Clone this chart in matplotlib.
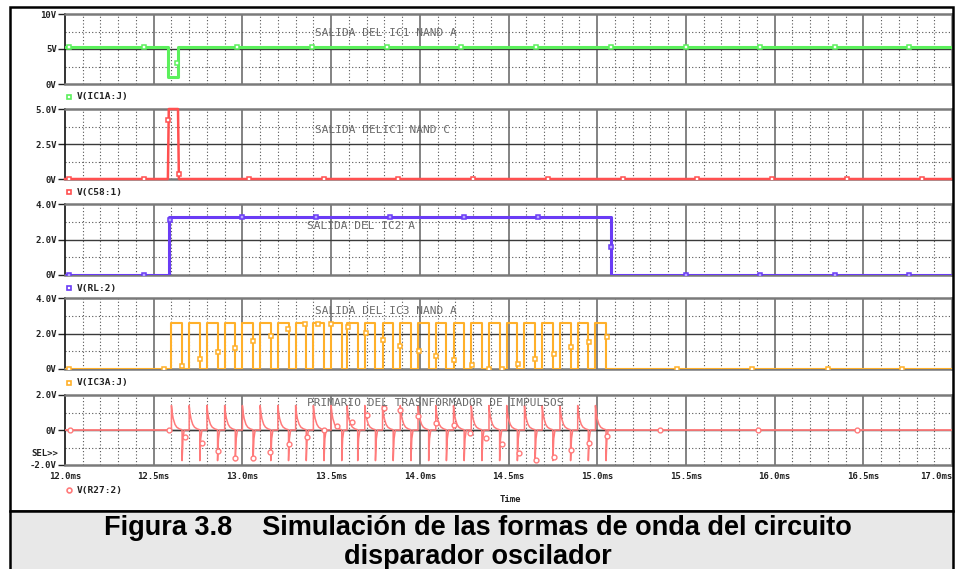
"""
Recreate a PSpice-style transient plot: five stacked waveform panels
with a grey caption box underneath.
"""

import matplotlib
matplotlib.use("Agg")
import matplotlib.pyplot as plt
import numpy as np
from matplotlib.patches import Rectangle

# === Data (times in ms, values in V) ===
X_TICKS = [12.0, 12.5, 13.0, 13.5, 14.0, 14.5, 15.0, 15.5, 16.0, 16.5, 17.0]
X_LABELS = ["12.0ms", "12.5ms", "13.0ms", "13.5ms", "14.0ms", "14.5ms",
            "15.0ms", "15.5ms", "16.0ms", "16.5ms", "17.0ms"]

# V(IC1A:J) - green
GREEN_T = [12.0, 12.58, 12.58, 12.636, 12.636, 17.0]
GREEN_V = [5.35, 5.35, 1.0, 1.0, 5.35, 5.35]
GREEN_MT = [12.023, 12.445, 12.631, 12.969, 13.392, 13.814, 14.231, 14.653,
            15.076, 15.498, 15.915, 16.338, 16.755]
GREEN_MV = [5.35, 5.35, 3.0, 5.35, 5.35, 5.35, 5.35, 5.35,
            5.35, 5.35, 5.35, 5.35, 5.35]

# V(C58:1) - red
RED_T = [12.0, 12.58, 12.585, 12.637, 12.642, 17.0]
RED_V = [0.0, 0.0, 5.0, 5.0, 0.0, 0.0]
RED_MT = [12.023, 12.445, 12.580, 12.642, 13.037, 13.459, 13.876, 14.299,
          14.721, 15.144, 15.561, 15.983, 16.406, 16.831]
RED_MV = [0, 0, 4.2, 0.35, 0, 0, 0, 0, 0, 0, 0, 0, 0, 0]

# V(RL:2) - blue
BLUE_T = [12.0, 12.587, 12.587, 15.08, 15.08, 17.0]
BLUE_V = [0.0, 0.0, 3.28, 3.28, 0.0, 0.0]
BLUE_MT = [12.023, 12.445, 12.59, 12.997, 13.414, 13.831, 14.248, 14.665,
           15.08, 15.50, 15.92, 16.34, 16.76]
BLUE_MV = [0, 0, 3.1, 3.28, 3.28, 3.28, 3.28, 3.28, 1.6, 0, 0, 0, 0]

# V(IC3A:J) - orange square wave
PULSE_RISE = [12.60, 12.70, 12.80, 12.90, 13.00, 13.10, 13.20, 13.30, 13.40,
              13.50, 13.59, 13.69, 13.79, 13.89, 13.99, 14.09, 14.19, 14.29,
              14.39, 14.49, 14.59, 14.69, 14.79, 14.89, 14.99]
PULSE_FALL = [12.66, 12.76, 12.86, 12.96, 13.06, 13.16, 13.26, 13.36, 13.46,
              13.56, 13.65, 13.75, 13.85, 13.95, 14.05, 14.15, 14.25, 14.35,
              14.45, 14.55, 14.65, 14.75, 14.85, 14.95, 15.05]
PULSE_HIGH = 2.61
ORANGE_MT = [12.023, 12.559, 12.657, 12.761, 12.862, 12.958, 13.059, 13.159,
             13.258, 13.352, 13.424, 13.499, 13.598, 13.694, 13.793, 13.891,
             13.993, 14.094, 14.193, 14.295, 14.390, 14.462, 14.554, 14.652,
             14.755, 14.855, 14.954, 15.055, 15.45, 15.87, 16.30, 16.72]
ORANGE_MV = [0, 0, 0.17, 0.56, 0.96, 1.20, 1.58, 1.86,
             2.25, 2.54, 2.54, 2.54, 2.35, 2.01, 1.63, 1.31,
             1.03, 0.75, 0.51, 0.23, 0, 0, 0.28, 0.56,
             0.83, 1.26, 1.50, 1.82, 0, 0, 0, 0]

# V(R27:2) - spike profiles after each rising / falling edge
SPIKE_UP_DT = [0.0, 0.0, 0.005, 0.010, 0.020, 0.030, 0.045, 0.058]
SPIKE_UP_V = [0.0, 1.40, 0.95, 0.65, 0.32, 0.16, 0.06, 0.02]
SPIKE_DN_DT = [0.0, 0.0, 0.005, 0.012]
SPIKE_DN_V = [0.0, -1.75, -0.50, 0.0]
R27_MT = [12.028, 12.588, 12.678, 12.772, 12.864, 12.959, 13.061, 13.155,
          13.260, 13.362, 13.459, 13.531, 13.615, 13.700, 13.797, 13.891,
          13.990, 14.094, 14.192, 14.282, 14.372, 14.466, 14.559, 14.657,
          14.755, 14.855, 14.954, 15.055, 15.352, 15.906, 16.464]
R27_MV = [0, 0, -0.38, -0.76, -1.18, -1.60, -1.60, -1.24,
          -0.80, -0.38, 0, 0.23, 0.47, 0.86, 1.24, 1.14,
          0.80, 0.42, 0.26, -0.15, -0.47, -0.80, -1.30, -1.71,
          -1.56, -1.14, -0.73, -0.34, 0, 0, 0]

# === Layout (pixels in a 955x569 canvas) ===
W, H = 955, 569
X0, X1 = 65, 952
PANELS = [  # (top, bottom, ymin, ymax, tick labels, title, title x, title y, name, legend y)
    (14, 84, 0, 10, ["0V", "5V", "10V"], "SALIDA DEL IC1 NAND A", 386, 33, "V(IC1A:J)", 97),
    (109, 179, 0, 5, ["0V", "2.5V", "5.0V"], "SALIDA DELIC1 NAND C", 382, 130, "V(C58:1)", 192),
    (204, 275, 0, 4, ["0V", "2.0V", "4.0V"], "SALIDA DEL IC2 A", 361, 226, "V(RL:2)", 288),
    (298, 369, 0, 4, ["0V", "2.0V", "4.0V"], "SALIDA DEL IC3 NAND A", 386, 311, "V(IC3A:J)", 383),
    (395, 465, -2, 2, ["-2.0V", "0V", "2.0V"],
     "PRIMARIO DEL TRASNFORMADOR DE IMPULSOS", 435, 403, "V(R27:2)", 490),
]
COLORS = ["#5cf05c", "#ff5050", "#6a3cf5", "#ffb02a", "#ff7a7a"]
MARKERS = ["s", "s", "s", "s", "o"]
MONO = "DejaVu Sans Mono"


def fx(px):
    return px / W


def fy(py):
    return 1 - py / H


def style_axes(ax, ymin, ymax, labels):
    ax.set_xlim(12.0, 17.0)
    ax.set_ylim(ymin, ymax)
    mid = (ymin + ymax) / 2
    q = (ymax - ymin) / 4
    # minor dotted verticals every 0.1ms, solid majors every 0.5ms
    for t in np.arange(12.1, 17.0, 0.1):
        if abs(t * 2 - round(t * 2)) > 1e-6:
            ax.axvline(t, color="#555555", lw=0.8, ls=(0, (1, 2)), zorder=1)
    for t in X_TICKS[1:-1]:
        ax.axvline(t, color="#6e6e6e", lw=1.2, zorder=1)
    ax.axhline(ymin + q, color="#555555", lw=0.8, ls=(0, (1, 2)), zorder=1)
    ax.axhline(ymax - q, color="#555555", lw=0.8, ls=(0, (1, 2)), zorder=1)
    ax.axhline(mid, color="#3a3a3a", lw=1.0, zorder=1)
    ax.set_yticks([ymin, mid, ymax])
    ax.set_yticklabels(labels)
    ax.tick_params(axis="y", length=5, width=1, pad=1, labelsize=6.5,
                   colors="#222222")
    for lab in ax.get_yticklabels():
        lab.set_fontfamily(MONO)
        lab.set_fontweight("bold")
    ax.set_xticks(X_TICKS)
    ax.tick_params(axis="x", length=0)
    ax.set_xticklabels([])
    ax.spines["left"].set_color("#111111")
    ax.spines["left"].set_linewidth(1.2)
    for side in ["top", "right", "bottom"]:
        ax.spines[side].set_color("#7a7a7a")
        ax.spines[side].set_linewidth(1.8)


def main():
    fig = plt.figure(figsize=(W / 100, H / 100), dpi=100)
    fig.patch.set_facecolor("white")

    # outer frame and caption box
    fig.add_artist(Rectangle((fx(10), fy(511)), fx(943), 504 / H,
                             fill=False, ec="black", lw=1.8,
                             transform=fig.transFigure))
    fig.add_artist(Rectangle((fx(10), -0.01), fx(943), fy(511) + 0.01,
                             fc="#e8e8e8", ec="black", lw=1.8,
                             transform=fig.transFigure))
    fig.text(0.5, fy(528), "Figura 3.8    Simulación de las formas de onda del circuito",
             ha="center", va="center", fontsize=19.5, fontweight="bold",
             family="Liberation Sans", color="black")
    fig.text(0.5, fy(557), "disparador oscilador",
             ha="center", va="center", fontsize=19.5, fontweight="bold",
             family="Liberation Sans", color="black")

    axes = []
    for i, (top, bot, ymin, ymax, labels, title, tx, ty, name, legy) in enumerate(PANELS):
        ax = fig.add_axes([fx(X0), fy(bot), fx(X1 - X0), (bot - top) / H])
        style_axes(ax, ymin, ymax, labels)
        fig.text(fx(tx), fy(ty), title, ha="center", va="center",
                 fontsize=8, family=MONO, color="#6a6a6a", zorder=5)
        # legend entry below panel
        ly = fy(legy)
        fig.lines.append(plt.Line2D([fx(69)], [ly], marker=MARKERS[i],
                                    ms=3.5, mfc="white", mec=COLORS[i],
                                    mew=1.2, transform=fig.transFigure))
        fig.text(fx(77), ly, name, ha="left", va="center", fontsize=6.8,
                 family=MONO, fontweight="bold", color="#222222")
        axes.append(ax)

    # Panel 1
    ax = axes[0]
    ax.plot(GREEN_T, GREEN_V, color=COLORS[0], lw=2.2, zorder=3)
    ax.plot(GREEN_MT, GREEN_MV, ls="none", marker="s", ms=3.5, mfc="white",
            mec=COLORS[0], mew=1.1, zorder=4)

    # Panel 2
    ax = axes[1]
    ax.plot(RED_T, RED_V, color=COLORS[1], lw=1.8, zorder=3, clip_on=False)
    ax.plot(RED_MT, RED_MV, ls="none", marker="s", ms=3.5, mfc="white",
            mec=COLORS[1], mew=1.1, zorder=4)

    # Panel 3
    ax = axes[2]
    ax.plot(BLUE_T, BLUE_V, color=COLORS[2], lw=2.2, zorder=3)
    ax.plot(BLUE_MT, BLUE_MV, ls="none", marker="s", ms=3.5, mfc="#b9a8ff",
            mec=COLORS[2], mew=1.1, zorder=4)

    # Panel 4: square wave built from edge lists
    ot, ov = [12.0], [0.0]
    for r, f in zip(PULSE_RISE, PULSE_FALL):
        ot += [r, r, f, f]
        ov += [0.0, PULSE_HIGH, PULSE_HIGH, 0.0]
    ot.append(17.0)
    ov.append(0.0)
    ax = axes[3]
    ax.plot(ot, ov, color=COLORS[3], lw=1.5, zorder=3)
    ax.plot(ORANGE_MT, ORANGE_MV, ls="none", marker="s", ms=3.5,
            mfc="white", mec=COLORS[3], mew=1.1, zorder=4)

    # Panel 5: spikes on every edge
    ax = axes[4]
    ax.plot([12.0, PULSE_RISE[0]], [0, 0], color=COLORS[4], lw=1.3, zorder=3)
    ax.plot([PULSE_FALL[-1] + SPIKE_DN_DT[-1], 17.0], [0, 0],
            color=COLORS[4], lw=1.3, zorder=3)
    st, sv = [], []
    for r, f in zip(PULSE_RISE, PULSE_FALL):
        st += [r + d for d in SPIKE_UP_DT]
        sv += SPIKE_UP_V
        st += [f + d for d in SPIKE_DN_DT]
        sv += SPIKE_DN_V
    ax.plot(st, sv, color=COLORS[4], lw=1.1, zorder=3)
    ax.plot([PULSE_RISE[0], PULSE_FALL[-1]], [0, 0], color="#3a3a3a",
            lw=1.0, zorder=2.5)
    ax.plot(R27_MT, R27_MV, ls="none", marker="o", ms=3.5, mfc="white",
            mec=COLORS[4], mew=1.0, zorder=4)
    ax.set_xticklabels(X_LABELS)
    ax.tick_params(axis="x", labelsize=6.5, pad=5, colors="#222222")
    xlabs = ax.get_xticklabels()
    for lab in xlabs:
        lab.set_fontfamily(MONO)
        lab.set_fontweight("bold")
    xlabs[-1].set_horizontalalignment("right")
    fig.text(fx(58), fy(453), "SEL>>", ha="right", va="center", fontsize=6.5,
             family=MONO, fontweight="bold", color="#222222")
    fig.text(fx(510), fy(500), "Time", ha="center", va="center", fontsize=6.5,
             family=MONO, fontweight="bold", color="#222222")

    fig.savefig("out.png", dpi=100)
    plt.close(fig)


if __name__ == "__main__":
    main()
